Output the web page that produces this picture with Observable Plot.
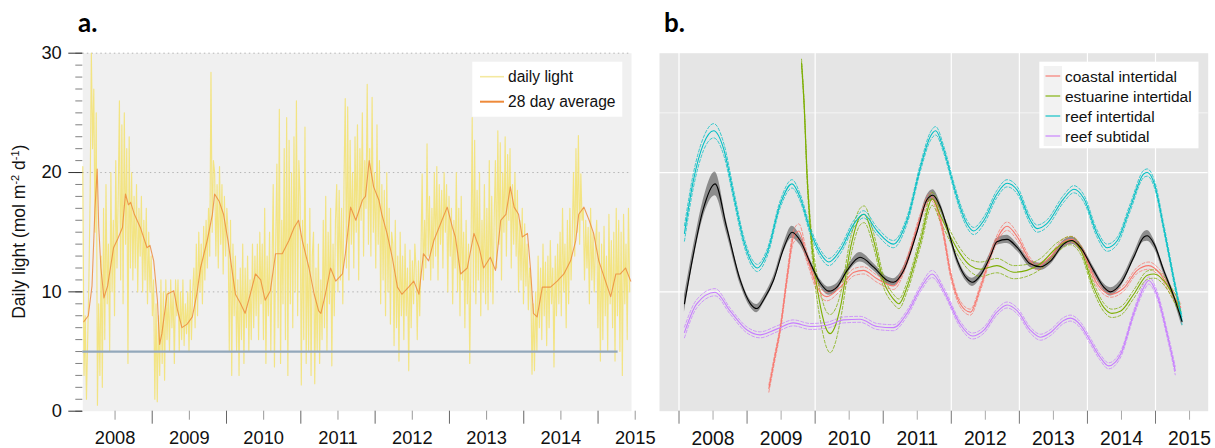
<!DOCTYPE html>
<html>
<head>
<meta charset="utf-8">
<script src="https://cdn.jsdelivr.net/npm/d3@7"></script>
<script src="https://cdn.jsdelivr.net/npm/@observablehq/plot@0.6"></script>
<style>
  body { margin: 0; background: #fff; }
  #fig { position: relative; width: 1215px; height: 448px; overflow: hidden; font-family: "Liberation Sans", Arial, sans-serif; }
  #fig svg { position: absolute; top: 0; }
</style>
</head>
<body>
<div id="fig"></div>
<script>
// ---------------- panel a: daily light ----------------
// Daily light readings (mol m-2 d-1), one reading every 6 days from late January 2008.
const dailyStart = 2008.066;      // decimal year of the first reading
const dailyStepDays = 6;
const dailyLight = [
  20.5, 3, 8, 1, 6, 11,
  18, 30, 22, 27, 15, 25,
  0.5, 9, 3, 13, 2, 17, 6, 19, 9, 14, 5, 20, 10, 16, 8, 21, 12, 18,
  26, 11, 24, 9, 25, 14, 22, 4, 23, 12,
  20, 11, 18, 12, 19, 10, 17, 13, 18, 10, 16, 11,
  17, 9, 15, 10, 13, 8,
  11, 1, 9, 0.8, 8, 3,
  11, 4, 10, 2.6, 11, 6, 10, 5, 11, 7, 10, 4, 11, 8,
  11, 5, 10, 6, 11, 5.5, 9, 6.5, 10, 5, 11, 6, 10,
  12, 7, 14, 8, 15, 10, 14, 9, 15.5, 11, 16, 12, 17, 13,
  28.4, 15, 21,
  20, 13, 19, 12, 20.5, 14, 19, 11.5, 18, 13, 17,
  15, 5, 16, 3, 14, 8,
  13, 5, 11, 3, 12, 6, 14, 4, 12, 7, 13, 5, 11, 6, 14, 7, 13, 8, 14, 6, 15, 9,
  14, 6, 17, 4, 13, 8, 15, 5, 12,
  19, 3.7, 14,
  20.7, 7, 25.3, 4, 16, 9, 22, 6,
  24.6, 3, 22.7, 9, 20, 7, 23, 10, 26, 8, 21,
  18, 2.2, 16, 6, 23.8, 4, 14, 5, 17, 3, 13,
  15, 2.3, 12, 5, 14, 4, 11, 6,
  16, 7, 18, 5, 15, 9, 17, 3.8, 14, 8, 16,
  19, 10, 18.5, 11, 17, 9, 19.3, 26.2,
  12, 25.5, 11, 22.7, 14, 20, 12, 23,
  15, 24, 11, 22, 16, 25, 13, 21, 17, 27.4, 14,
  22, 13, 26.3, 15, 20, 12, 24, 14,
  21, 9, 19, 11, 18.5, 8, 20, 10, 17, 7.3, 15,
  14, 5.5, 16, 7, 13, 4.2, 15, 8,
  13, 6, 14, 8, 12, 3.4, 13.5, 7, 12.6, 9, 14,
  12, 6, 12.6, 8, 13,
  19.9, 11, 16, 12, 22.4, 13, 18, 11, 17, 12, 20,
  13, 20.5, 11, 19, 14, 18.5, 12, 20, 15, 19, 10, 18, 13, 17, 9, 16, 12,
  20, 10, 17, 8, 18, 11, 15, 7, 16, 9, 14, 4,
  13, 24.6, 10,
  22.7, 9, 18.5, 11, 20, 8, 16, 10, 19, 9, 17, 8.5, 21, 10, 18, 9,
  16, 21, 12, 23.5, 14, 22.5, 11, 20, 15, 23, 13, 21.5, 16, 22, 12, 19, 14, 20, 13,
  18.5, 10, 16, 11, 17, 9, 15.7, 10.5, 14, 8.5, 12,
  11, 3.1, 9, 3.4, 10,
  5, 13, 7, 12, 6, 14, 8, 12.5, 5.5, 13, 7, 14.3, 9, 12, 3.7, 13, 8, 14, 9,
  15, 8, 17, 10, 14, 7, 16, 9, 17, 11, 15,
  20, 13, 22, 15, 23.1, 14, 19.9, 16,
  17, 11, 16, 12, 15.4, 9, 17, 11, 15, 10, 14,
  16, 7, 15, 4.2, 14, 6, 15.5, 8, 13, 5, 16.5, 9, 14.3, 7, 15, 4.2,
  17, 8, 16, 5, 15, 3, 16.5, 9, 14, 6, 17, 10
];

// 28 day running average (decimal year, mol m-2 d-1)
const avgT = [2008.08, 2008.14, 2008.19, 2008.23, 2008.26, 2008.28, 2008.31, 2008.35, 2008.40, 2008.45,
  2008.48, 2008.54, 2008.60, 2008.64, 2008.68, 2008.71, 2008.76, 2008.84, 2008.93, 2008.97,
  2009.02, 2009.07, 2009.10, 2009.13, 2009.20, 2009.29, 2009.34, 2009.40, 2009.47, 2009.54,
  2009.60, 2009.65, 2009.74, 2009.81, 2009.84, 2009.90, 2009.96, 2010.02, 2010.07, 2010.12,
  2010.19, 2010.25, 2010.32, 2010.39, 2010.46, 2010.52, 2010.59, 2010.66, 2010.75, 2010.84,
  2010.91, 2010.97, 2011.02, 2011.11, 2011.18, 2011.24, 2011.27, 2011.33, 2011.40, 2011.47,
  2011.56, 2011.60, 2011.67, 2011.74, 2011.83, 2011.87, 2011.92, 2011.98, 2012.05, 2012.09,
  2012.16, 2012.23, 2012.30, 2012.36, 2012.45, 2012.52, 2012.59, 2012.65, 2012.72, 2012.79,
  2012.86, 2012.97, 2013.04, 2013.08, 2013.15, 2013.24, 2013.33, 2013.40, 2013.46, 2013.55,
  2013.62, 2013.69, 2013.76, 2013.82, 2013.87, 2013.93, 2013.98, 2014.05, 2014.09, 2014.13,
  2014.18, 2014.25, 2014.36, 2014.45, 2014.54, 2014.63, 2014.70, 2014.74, 2014.81, 2014.88,
  2014.94, 2015.01, 2015.10, 2015.17, 2015.24, 2015.30, 2015.37, 2015.44];
const avgV = [7.5, 8, 10.5, 17, 20.3, 15.5, 12, 9.5, 10.5, 12.5,
  13.7, 14.5, 15.4, 18.2, 17.3, 17.5, 16.5, 15.4, 13.7, 13.9,
  12.6, 9.3, 5.6, 6.5, 9.8, 10.1, 8.5, 7.0, 7.3, 7.9,
  9.8, 12, 14.3, 16.5, 18.2, 17.6, 16.5, 14.3, 12, 9.8,
  9.0, 8.2, 9.8, 11.5, 11, 9.3, 10.1, 13.2, 13.2, 14.3,
  15.4, 16, 14.3, 12, 9.8, 8.4, 8.2, 9.8, 12, 10.9,
  11.5, 13.2, 17.1, 16, 17.7, 18, 21, 18.8, 17.7, 16.5,
  14.9, 12.9, 10.4, 9.8, 10.4, 10.9, 9.8, 13.2, 12.6, 14.3,
  15.4, 17.1, 15.4, 14.6, 11.5, 12, 14.9, 13.7, 12, 12.9,
  11.8, 16, 16.5, 18.8, 17.1, 16.5, 14.6, 14.9, 12, 8.2,
  7.9, 10.4, 10.4, 10.9, 11.5, 12.6, 14.3, 16.5, 17.1, 16,
  14.9, 12.6, 10.9, 9.6, 11.5, 11.5, 12, 10.9];

// light threshold line
const thresholdValue = 5;
const thresholdEnd = 2015.27;

// axis ticks and labels
const yMajorA = [0, 10, 20, 30];
const yMinorA = d3.range(0, 31, 1);
const gridLevelsA = [10, 20, 30];
const yearLabels = ["2008", "2009", "2010", "2011", "2012", "2013", "2014", "2015"];
const yearMids = [2008.5, 2009.5, 2010.5, 2011.5, 2012.5, 2013.5, 2014.5, 2015.5];
const yearStartsA = [2009, 2010, 2011, 2012, 2013, 2014, 2015];
const yearStartsB = [2008, 2009, 2010, 2011, 2012, 2013, 2014, 2015];

// ---------------- panel b: fitted trends by habitat ----------------
const siteNames = ["coastal intertidal", "estuarine intertidal", "reef intertidal", "reef subtidal"];
const sitePalette = ["#F8766D", "#7CAE00", "#00BFC4", "#C77CFF"];

const coastalT = [2009.32, 2009.40, 2009.49, 2009.59, 2009.68, 2009.76, 2009.88, 2010.03, 2010.17, 2010.37,
  2010.57, 2010.71, 2010.91, 2011.15, 2011.35, 2011.55, 2011.69, 2011.87, 2011.99, 2012.13,
  2012.28, 2012.43, 2012.62, 2012.82, 2012.97, 2013.16, 2013.26, 2013.45, 2013.65, 2013.775,
  2013.92, 2014.14, 2014.34, 2014.53, 2014.73, 2014.90, 2015.07, 2015.22, 2015.37];
const coastalFit = [1.9, 4.3, 7.0, 11.3, 14.6, 15.1, 12.9, 10.4, 9.6, 10.4,
  11.65, 11.8, 11.1, 10.5, 12.6, 16.3, 18.0, 15.3, 11.5, 9.0,
  8.3, 10.4, 13.75, 15.5, 14.6, 12.6, 12.1, 12.9, 14.2, 14.4,
  13.5, 10.7, 9.8, 10.3, 11.8, 12.2, 11.5, 10.1, 8.7];
const coastalCI = [0.3, 0.3, 0.3, 0.35, 0.5, 0.6, 0.4, 0.35, 0.35, 0.3,
  0.3, 0.3, 0.3, 0.3, 0.3, 0.3, 0.3, 0.3, 0.3, 0.25,
  0.25, 0.25, 0.3, 0.35, 0.3, 0.25, 0.25, 0.25, 0.25, 0.25,
  0.25, 0.25, 0.25, 0.25, 0.25, 0.3, 0.3, 0.3, 0.35];

const estuarineT = [2009.80, 2009.84, 2009.88, 2009.93, 2010.00, 2010.08, 2010.17, 2010.22, 2010.30, 2010.37,
  2010.52, 2010.66, 2010.72, 2010.86, 2011.00, 2011.15, 2011.23, 2011.35, 2011.55, 2011.72,
  2011.84, 2011.99, 2012.13, 2012.28, 2012.43, 2012.67, 2012.92, 2013.11, 2013.31, 2013.55,
  2013.75, 2013.90, 2014.09, 2014.24, 2014.36, 2014.49, 2014.68, 2014.88, 2014.98, 2015.12,
  2015.27, 2015.37];
const estuarineFit = [29.2, 25.5, 19.9, 15.4, 11.5, 8.7, 6.8, 6.5, 7.2, 8.7,
  13.7, 16.3, 16.5, 14.3, 10.96, 9.4, 9.0, 10.4, 14.3, 17.8,
  16.4, 14.6, 13.2, 12.2, 11.9, 12.2, 11.65, 11.8, 12.35, 13.7,
  14.3, 13.5, 10.4, 8.7, 8.2, 8.4, 9.8, 11.4, 11.5, 10.95,
  9.6, 8.4];
const estuarineCI = [0.3, 0.3, 0.4, 0.6, 0.9, 1.2, 1.5, 1.6, 1.4, 1.1,
  0.8, 0.7, 0.7, 0.6, 0.5, 0.4, 0.4, 0.4, 0.45, 0.55,
  0.5, 0.45, 0.45, 0.5, 0.6, 0.6, 0.55, 0.5, 0.45, 0.4,
  0.35, 0.35, 0.35, 0.35, 0.35, 0.35, 0.35, 0.35, 0.35, 0.35,
  0.4, 0.45];

const reefInterT = [2008.08, 2008.21, 2008.36, 2008.51, 2008.66, 2008.80, 2008.95, 2009.10, 2009.15, 2009.29,
  2009.49, 2009.66, 2009.78, 2009.93, 2010.08, 2010.20, 2010.37, 2010.57, 2010.71, 2010.91,
  2011.15, 2011.35, 2011.55, 2011.69, 2011.77, 2011.89, 2012.04, 2012.13, 2012.23, 2012.33,
  2012.48, 2012.67, 2012.82, 2012.97, 2013.16, 2013.26, 2013.40, 2013.65, 2013.80, 2013.95,
  2014.14, 2014.29, 2014.44, 2014.63, 2014.83, 2014.88, 2014.98, 2015.12, 2015.27, 2015.39];
const reefInterFit = [14.9, 19.3, 22.4, 23.5, 21.9, 18.2, 14.3, 12.2, 12.0, 13.2,
  17.4, 19.05, 17.9, 15.1, 13.2, 12.5, 13.5, 15.7, 16.5, 15.1,
  14.0, 16.0, 20.5, 23.0, 23.5, 21.9, 18.8, 17.1, 15.7, 15.1,
  16.0, 18.2, 19.1, 18.5, 16.0, 15.3, 15.7, 17.8, 18.6, 17.8,
  14.9, 13.7, 14.3, 17.1, 19.9, 20.0, 19.1, 15.4, 11.0, 7.6];
const reefInterCI = [0.65, 0.6, 0.55, 0.6, 0.5, 0.4, 0.35, 0.3, 0.3, 0.3,
  0.3, 0.35, 0.3, 0.3, 0.3, 0.3, 0.3, 0.3, 0.3, 0.3,
  0.3, 0.3, 0.3, 0.35, 0.35, 0.3, 0.3, 0.3, 0.3, 0.3,
  0.3, 0.3, 0.3, 0.3, 0.3, 0.3, 0.3, 0.3, 0.3, 0.3,
  0.3, 0.3, 0.3, 0.3, 0.3, 0.3, 0.3, 0.3, 0.3, 0.35];

const reefSubT = [2008.08, 2008.26, 2008.53, 2008.75, 2009.00, 2009.19, 2009.44, 2009.68, 2009.93, 2010.17,
  2010.42, 2010.66, 2010.91, 2011.15, 2011.35, 2011.55, 2011.72, 2011.89, 2012.13, 2012.31,
  2012.48, 2012.67, 2012.82, 2012.97, 2013.16, 2013.31, 2013.46, 2013.65, 2013.75, 2013.90,
  2014.04, 2014.19, 2014.31, 2014.49, 2014.68, 2014.83, 2014.90, 2015.02, 2015.17, 2015.29];
const reefSubFit = [6.6, 9.0, 9.97, 8.4, 6.8, 6.4, 6.9, 7.4, 7.1, 7.2,
  7.65, 7.7, 7.1, 7.0, 8.2, 10.3, 11.5, 10.1, 7.3, 6.3,
  6.8, 8.3, 8.9, 8.4, 6.8, 6.2, 6.6, 7.6, 7.8, 7.2,
  5.9, 4.5, 3.8, 4.8, 8.2, 10.4, 10.95, 9.8, 6.5, 3.4];
const reefSubCI = [0.45, 0.35, 0.3, 0.25, 0.25, 0.25, 0.25, 0.25, 0.25, 0.25,
  0.25, 0.25, 0.25, 0.25, 0.25, 0.25, 0.3, 0.25, 0.25, 0.25,
  0.25, 0.25, 0.25, 0.25, 0.25, 0.25, 0.25, 0.25, 0.25, 0.25,
  0.25, 0.25, 0.25, 0.25, 0.25, 0.3, 0.3, 0.3, 0.3, 0.35];

// all habitats combined (black line with grey band)
const allT = [2008.08, 2008.20, 2008.35, 2008.53, 2008.70, 2008.90, 2009.05, 2009.145, 2009.25, 2009.39,
  2009.54, 2009.66, 2009.78, 2009.93, 2010.08, 2010.20, 2010.32, 2010.47, 2010.66, 2010.86,
  2011.06, 2011.15, 2011.30, 2011.50, 2011.64, 2011.73, 2011.84, 2011.94, 2012.09, 2012.23,
  2012.31, 2012.43, 2012.575, 2012.67, 2012.82, 2012.97, 2013.16, 2013.31, 2013.46, 2013.65,
  2013.775, 2013.90, 2014.09, 2014.24, 2014.34, 2014.49, 2014.68, 2014.83, 2014.88, 2014.98,
  2015.12, 2015.27, 2015.39];
const allFit = [9.0, 12.8, 16.8, 19.05, 15.4, 10.96, 9.0, 8.6, 9.4, 11.0,
  13.7, 15.0, 14.3, 12.4, 10.7, 10.06, 10.4, 11.8, 12.9, 12.07,
  10.96, 10.8, 11.8, 15.1, 17.7, 18.1, 17.1, 15.4, 12.6, 11.1,
  10.8, 11.4, 13.0, 14.2, 14.4, 13.7, 12.35, 12.1, 12.6, 14.0,
  14.3, 13.7, 11.8, 10.4, 10.0, 10.7, 12.9, 14.6, 14.7, 14.0,
  11.8, 9.6, 7.5];
const allCI = [0.7, 0.6, 0.7, 1.0, 0.5, 0.35, 0.3, 0.35, 0.3, 0.3,
  0.35, 0.5, 0.4, 0.3, 0.3, 0.35, 0.3, 0.3, 0.4, 0.3,
  0.3, 0.3, 0.3, 0.3, 0.35, 0.45, 0.35, 0.3, 0.3, 0.3,
  0.35, 0.3, 0.3, 0.3, 0.35, 0.3, 0.3, 0.3, 0.3, 0.3,
  0.3, 0.3, 0.3, 0.3, 0.35, 0.3, 0.3, 0.4, 0.45, 0.35,
  0.3, 0.3, 0.4];

const gridXB = [2008, 2010, 2012, 2013, 2014, 2015];
const gridYB = [10, 20];
const gridYMinorB = [25];

// ---------------- build tables ----------------
const dailyRows = dailyLight.map((v, i) => ({t: dailyStart + i * dailyStepDays / 365.25, v}));
const avgRows = avgT.map((t, i) => ({t, v: avgV[i]}));

function siteTable(name, T, F, C) {
  return T.map((t, i) => ({site: name, t, fit: F[i], lo: F[i] - C[i], hi: F[i] + C[i]}));
}
const siteRows = [
  ...siteTable(siteNames[0], coastalT, coastalFit, coastalCI),
  ...siteTable(siteNames[1], estuarineT, estuarineFit, estuarineCI),
  ...siteTable(siteNames[2], reefInterT, reefInterFit, reefInterCI),
  ...siteTable(siteNames[3], reefSubT, reefSubFit, reefSubCI)
];
const allRows = siteTable("all", allT, allFit, allCI);

const font = "'Liberation Sans', Arial, sans-serif";
const baseStyle = {fontFamily: font, fontSize: "18px", background: "transparent", overflow: "visible", color: "#111"};
const fig = d3.select("#fig");

// ---------------- panel a ----------------
const plotA = Plot.plot({
  width: 660, height: 448,
  marginTop: 52.7, marginLeft: 82.3, marginRight: 29, marginBottom: 37.3,
  x: {domain: [2008.066, 2015.45], label: null},
  y: {domain: [0, 30], label: null},
  style: baseStyle,
  marks: [
    Plot.frame({fill: "#f0f0f0", stroke: "none"}),
    Plot.ruleY(gridLevelsA, {stroke: "#b5b5b5", strokeDasharray: "1.5,3"}),
    Plot.line(dailyRows, {x: "t", y: "v", stroke: "#f3e276", strokeWidth: 1.15, strokeOpacity: 0.9}),
    Plot.line(avgRows, {x: "t", y: "v", stroke: "#ec8636", strokeWidth: 1.1, strokeOpacity: 0.8}),
    Plot.ruleY([{v: thresholdValue, t1: 2008.066, t2: thresholdEnd}], {y: "v", x1: "t1", x2: "t2", stroke: "#93a8bb", strokeWidth: 2.2}),
    Plot.axisY({ticks: yMinorA, tickSize: 7, tickFormat: () => "", stroke: "#808080", label: null}),
    Plot.axisY({ticks: yMajorA, tickSize: 14, tickPadding: 7, stroke: "#333", fontSize: 18.3, label: null}),
    Plot.axisX({ticks: yearStartsA, tickSize: 13, tickFormat: () => "", stroke: "#666", label: null}),
    Plot.axisX({ticks: yearMids, tickSize: 9, tickPadding: 11, tickFormat: d => yearLabels[yearMids.indexOf(d)], stroke: "#999", fontSize: 18.3, label: null})
  ]
});
plotA.style.left = "0px";
fig.node().appendChild(plotA);

const svgA = d3.select(plotA);
svgA.append("text").attr("x", 78).attr("y", 31.7).attr("text-anchor", "start")
  .attr("font-family", "Lato, 'Liberation Sans', sans-serif").attr("font-weight", 700).attr("font-size", 26)
  .attr("fill", "#000").text("a.");

const yl = svgA.append("text").attr("transform", "translate(24.6,231.7) rotate(-90)")
  .attr("text-anchor", "middle").attr("font-size", 17.5).attr("fill", "#111");
yl.append("tspan").text("Daily light (mol m");
yl.append("tspan").attr("dy", -6).attr("font-size", 11).text("-2");
yl.append("tspan").attr("dy", 6).text(" d");
yl.append("tspan").attr("dy", -6).attr("font-size", 11).text("-1");
yl.append("tspan").attr("dy", 6).text(")");

const legendA = [
  {label: "daily light", color: "#f4e9a0", width: 1.6},
  {label: "28 day average", color: "#ee8a3a", width: 2}
];
const gA = svgA.append("g").attr("font-size", 15.6).attr("fill", "#111").attr("text-anchor", "start");
gA.append("rect").attr("x", 472.3).attr("y", 61.7).attr("width", 150).attr("height", 55).attr("fill", "#fff");
legendA.forEach((d, i) => {
  const cy = 76.7 + i * 25;
  gA.append("line").attr("x1", 480).attr("x2", 504).attr("y1", cy).attr("y2", cy)
    .attr("stroke", d.color).attr("stroke-width", d.width);
  gA.append("text").attr("x", 508).attr("y", cy + 5.3).text(d.label);
});

// ---------------- panel b ----------------
const plotB = Plot.plot({
  width: 575, height: 448,
  marginTop: 52.7, marginLeft: 19, marginRight: 7.3, marginBottom: 37.3,
  x: {domain: [2007.7135, 2015.774], label: null},
  y: {domain: [0, 30], axis: null},
  color: {domain: siteNames, range: sitePalette},
  style: baseStyle,
  marks: [
    Plot.frame({fill: "#e5e5e5", stroke: "none"}),
    Plot.ruleX(gridXB, {stroke: "#fff", strokeWidth: 1.2}),
    Plot.ruleY(gridYB, {stroke: "#fff", strokeWidth: 1.2}),
    Plot.ruleY(gridYMinorB, {stroke: "#fff", strokeWidth: 0.6}),
    Plot.areaY(allRows, {x: "t", y1: "lo", y2: "hi", fill: "#333", fillOpacity: 0.5, curve: "monotone-x"}),
    Plot.line(siteRows, {x: "t", y: "lo", z: "site", stroke: "site", strokeWidth: 0.9, strokeOpacity: 0.85, strokeDasharray: "3,2", curve: "monotone-x"}),
    Plot.line(siteRows, {x: "t", y: "hi", z: "site", stroke: "site", strokeWidth: 0.9, strokeOpacity: 0.85, strokeDasharray: "3,2", curve: "monotone-x"}),
    Plot.line(siteRows, {x: "t", y: "fit", z: "site", stroke: "site", strokeWidth: 1.1, curve: "monotone-x"}),
    Plot.line(allRows, {x: "t", y: "fit", stroke: "#000", strokeWidth: 1.1, curve: "monotone-x"}),
    Plot.axisX({ticks: yearStartsB, tickSize: 13, tickFormat: () => "", stroke: "#777", label: null}),
    Plot.axisX({ticks: yearMids, tickSize: 9, tickPadding: 11, tickFormat: d => yearLabels[yearMids.indexOf(d)], stroke: "#aaa", fontSize: 19.3, label: null})
  ]
});
plotB.style.left = "640px";
fig.node().appendChild(plotB);

const svgB = d3.select(plotB);
svgB.append("text").attr("x", 24).attr("y", 31.7).attr("text-anchor", "start")
  .attr("font-family", "Lato, 'Liberation Sans', sans-serif").attr("font-weight", 700).attr("font-size", 26)
  .attr("fill", "#000").text("b.");

const gB = svgB.append("g").attr("font-size", 15.5).attr("fill", "#111").attr("text-anchor", "start");
gB.append("rect").attr("x", 399.3).attr("y", 61.7).attr("width", 159.2).attr("height", 86.6).attr("fill", "#fff");
siteNames.forEach((name, i) => {
  const top = 66 + i * 20;
  gB.append("rect").attr("x", 403.7).attr("y", top).attr("width", 18.3).attr("height", 20).attr("fill", "#f2f2f2");
  gB.append("line").attr("x1", 405.5).attr("x2", 420.2).attr("y1", top + 10).attr("y2", top + 10)
    .attr("stroke", sitePalette[i]).attr("stroke-width", 1.4).attr("stroke-opacity", 0.8);
  gB.append("text").attr("x", 425).attr("y", top + 15.5).text(name);
});
</script>
</body>
</html>
